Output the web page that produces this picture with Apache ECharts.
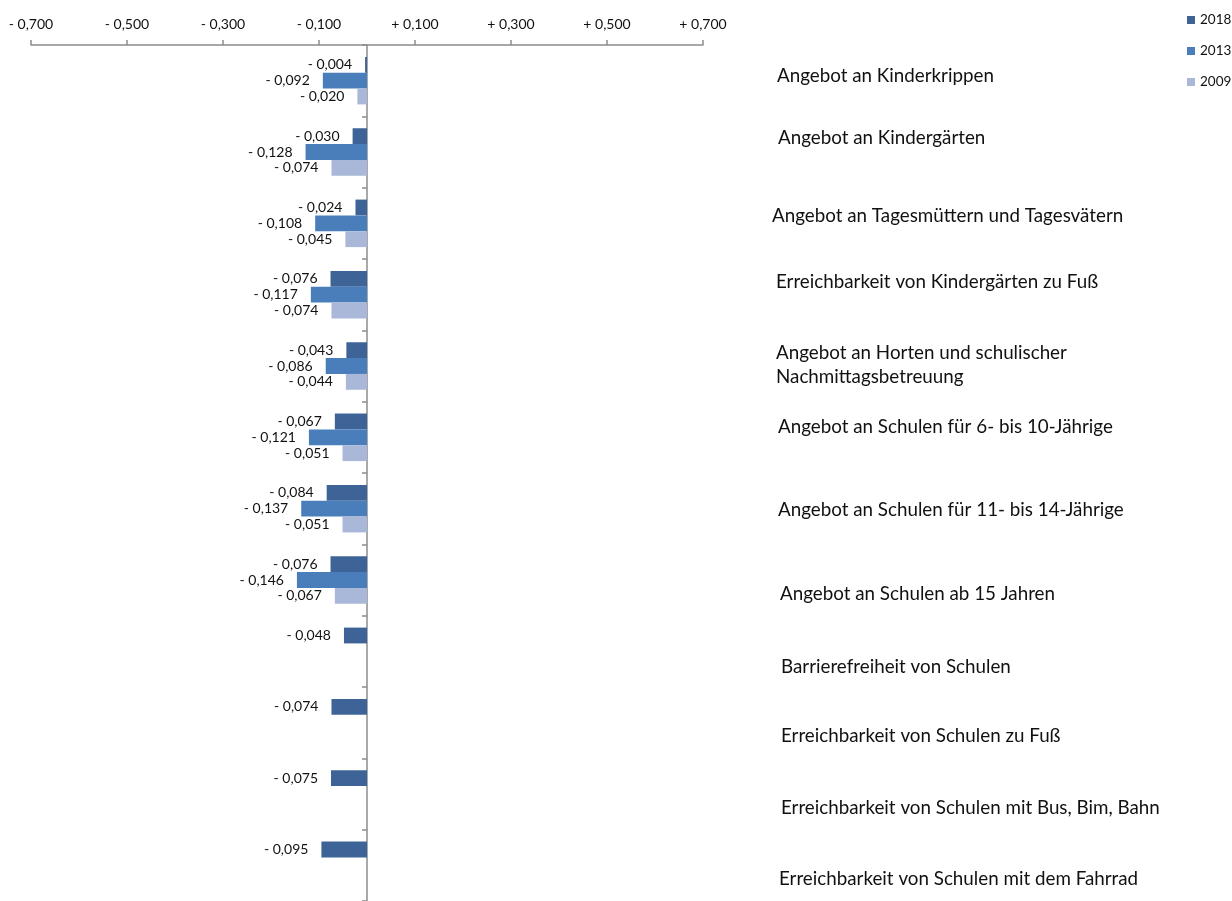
<!DOCTYPE html>
<html>
<head>
<meta charset="utf-8">
<script src="https://cdn.jsdelivr.net/npm/echarts@6/dist/echarts.min.js"></script>
<style>
  html, body { margin: 0; padding: 0; background: #ffffff; }
  #chart { width: 1232px; height: 901px; }
</style>
</head>
<body>
<div id="chart"></div>
<script>
// Categories (top to bottom)
const categories = [
  'Angebot an Kinderkrippen',
  'Angebot an Kindergärten',
  'Angebot an Tagesmüttern und Tagesvätern',
  'Erreichbarkeit von Kindergärten zu Fuß',
  'Angebot an Horten und schulischer\nNachmittagsbetreuung',
  'Angebot an Schulen für 6- bis 10-Jährige',
  'Angebot an Schulen für 11- bis 14-Jährige',
  'Angebot an Schulen ab 15 Jahren',
  'Barrierefreiheit von Schulen',
  'Erreichbarkeit von Schulen zu Fuß',
  'Erreichbarkeit von Schulen mit Bus, Bim, Bahn',
  'Erreichbarkeit von Schulen mit dem Fahrrad'
];

const years = ['2018', '2013', '2009'];

const values2018 = [-0.004, -0.030, -0.024, -0.076, -0.043, -0.067, -0.084, -0.076, -0.048, -0.074, -0.075, -0.095];
const values2013 = [-0.092, -0.128, -0.108, -0.117, -0.086, -0.121, -0.137, -0.146, null, null, null, null];
const values2009 = [-0.020, -0.074, -0.045, -0.074, -0.044, -0.051, -0.051, -0.067, null, null, null, null];

// Value axis ticks
const axisMin = -0.7;
const axisMax = 0.7;
const axisStep = 0.2;

const FONT = 'Lato, "Open Sans", sans-serif';

function fmtSigned(v) {
  const s = Math.abs(v).toFixed(3).replace('.', ',');
  return (v < 0 ? '- ' : '+ ') + s;
}

// Category captions to the right of the plot (text block centres)
const captionX = [777, 778, 772, 776, 776, 778, 778, 780, 781, 781, 781, 779];
const captionY = [76, 138, 216, 282, 365, 427, 510, 594, 667, 736, 808, 879];

const chart = echarts.init(document.getElementById('chart'), null, { renderer: 'canvas' });

const colors = ['#3E6497', '#4A7EBB', '#A9B8D8'];

function barSeries(name, data, color) {
  return {
    name: name,
    type: 'bar',
    data: data,
    barGap: '0%',
    barCategoryGap: '33.4%',
    itemStyle: { color: color },
    label: {
      show: true,
      position: 'left',
      distance: 13,
      fontFamily: FONT,
      fontSize: 14,
      color: '#111',
      formatter: p => (p.value == null ? '' : fmtSigned(p.value))
    }
  };
}

chart.setOption({
  animation: false,
  backgroundColor: '#ffffff',
  color: colors,
  textStyle: { fontFamily: FONT },
  grid: { left: 31, top: 45, width: 672, height: 865, containLabel: false },
  legend: {
    orient: 'vertical',
    left: 1182,
    top: 8,
    itemWidth: 8,
    itemHeight: 8,
    itemGap: 17,
    icon: 'rect',
    textStyle: { fontFamily: FONT, fontSize: 13.5, color: '#111' },
    data: years
  },
  xAxis: {
    type: 'value',
    position: 'top',
    min: axisMin,
    max: axisMax,
    interval: axisStep,
    splitLine: { show: false },
    axisLine: { show: true, lineStyle: { color: '#8C8C8C', width: 1.5 } },
    axisTick: { show: true, length: 5, lineStyle: { color: '#8C8C8C', width: 1.5 } },
    axisLabel: {
      margin: 14,
      fontFamily: FONT,
      fontSize: 14,
      color: '#111',
      formatter: v => fmtSigned(v)
    }
  },
  yAxis: {
    type: 'category',
    inverse: true,
    data: categories,
    axisLine: { show: true, onZero: true, lineStyle: { color: '#8C8C8C', width: 1.5 } },
    axisTick: { show: true, length: 5, lineStyle: { color: '#8C8C8C', width: 1.5 } },
    axisLabel: { show: false },
    splitLine: { show: false }
  },
  graphic: categories.map((c, i) => ({
    type: 'text',
    x: captionX[i],
    y: captionY[i],
    style: {
      text: c,
      fontFamily: FONT,
      fontSize: 18.8,
      lineHeight: 24,
      fill: '#111',
      align: 'left',
      verticalAlign: 'middle'
    }
  })),
  series: [
    barSeries(years[0], values2018, colors[0]),
    barSeries(years[1], values2013, colors[1]),
    barSeries(years[2], values2009, colors[2])
  ]
});
</script>
</body>
</html>
